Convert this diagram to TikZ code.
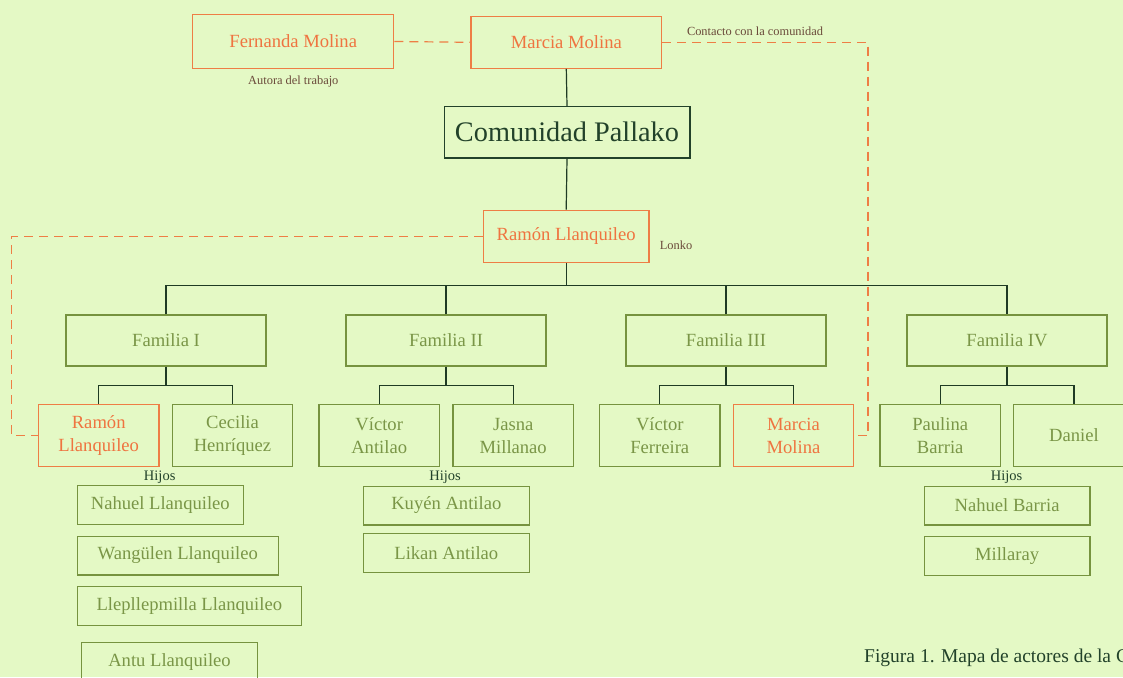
\documentclass[tikz,border=0pt]{standalone}
\usepackage{fontspec}
\setmainfont{Liberation Serif}
\definecolor{bgC}{HTML}{E4F9C5}
\definecolor{orT}{HTML}{EF7440}
\definecolor{orB}{HTML}{EE7E45}
\definecolor{grT}{HTML}{7A9647}
\definecolor{grB}{HTML}{76933F}
\definecolor{dkC}{HTML}{22422A}
\definecolor{lineC}{HTML}{1F3B24}
\definecolor{brC}{HTML}{6A4A3A}
\begin{document}
\begin{tikzpicture}[x=1pt,y=-1pt,
  box/.style={draw, line width=1.2pt, inner sep=0pt, align=center,
    font=\fontsize{18.6}{23}\selectfont},
  obox/.style={box, draw=orB, text=orT},
  gbox/.style={box, draw=grB, text=grT},
  conn/.style={draw=lineC, line width=1.2pt},
  link/.style={draw=orB, line width=1.2pt, dash pattern=on 9pt off 6pt},
  small/.style={text=brC, inner sep=0pt, font=\fontsize{12.4}{14}\selectfont},
  hijos/.style={text=dkC, inner sep=0pt, font=\fontsize{14.5}{16}\selectfont}
]
\useasboundingbox (0,0) rectangle (1123,677);
\clip (0,0) rectangle (1123,677);
\fill[bgC] (0,0) rectangle (1123,677);

% top
\node[obox, minimum width=201pt, minimum height=53.6pt] (fern) at (293.2,41.5) {Fernanda Molina};
\node[obox, minimum width=190.7pt, minimum height=52pt] (marT) at (566.3,42.3) {Marcia Molina};
\node[small] (autora) at (293.3,81.7) {Autora del trabajo};
\node[small] (contacto) at (755,31) {Contacto con la comunidad};

\node[box, draw=dkC, text=dkC, line width=1.3pt, minimum width=245.7pt, minimum height=51.3pt,
  font=\fontsize{28.3}{30}\selectfont] (com) at (567,132.3) {Comunidad Pallako};

\node[obox, minimum width=165.7pt, minimum height=52pt] (ramon) at (566.2,236.3) {Ramón Llanquileo};
\node[small] (lonko) at (676,245.3) {Lonko};

% families
\foreach \n/\x/\t in {f1/166/Familia I, f2/446/Familia II, f3/726/Familia III, f4/1007/Familia IV}
  \node[gbox, minimum width=200pt, minimum height=51pt] (\n) at (\x,340.5) {\t};

% couples
\tikzset{cbox/.style={minimum width=120.5pt, minimum height=61.5pt}}
\node[obox, cbox] (c11) at (98.7,435.5) {Ramón\\Llanquileo};
\node[gbox, cbox] (c12) at (232.5,435.5) {Cecilia\\Henríquez};
\node[gbox, cbox] (c21) at (379.2,435.5) {Víctor\\Antilao};
\node[gbox, cbox] (c22) at (513.2,435.5) {Jasna\\Millanao};
\node[gbox, cbox] (c31) at (659.8,435.5) {Víctor\\Ferreira};
\node[obox, cbox] (c32) at (793.5,435.5) {Marcia\\Molina};
\node[gbox, cbox] (c41) at (940.2,435.5) {Paulina\\Barria};
\node[gbox, cbox] (c42) at (1074,435.5) {Daniel};

% hijos
\node[hijos] (h1) at (159.7,477.5) {Hijos};
\node[hijos] (h2) at (445,477.5) {Hijos};
\node[hijos] (h4) at (1006.5,477.5) {Hijos};

\tikzset{kbox/.style={gbox, minimum height=38.8pt}}
\node[kbox, minimum width=166pt] (k11) at (160.3,505) {Nahuel Llanquileo};
\node[kbox, minimum width=201pt] (k12) at (177.8,555.5) {Wangülen Llanquileo};
\node[kbox, minimum width=224pt] (k13) at (189.3,606) {Llepllepmilla Llanquileo};
\node[kbox, minimum width=176.4pt] (k14) at (169.5,662) {Antu Llanquileo};
\node[kbox, minimum width=166pt] (k21) at (446.3,505.5) {Kuyén Antilao};
\node[kbox, minimum width=166pt] (k22) at (446.3,553.2) {Likan Antilao};
\node[kbox, minimum width=165.8pt] (k41) at (1007.1,505.5) {Nahuel Barria};
\node[kbox, minimum width=165.8pt] (k42) at (1007.1,556) {Millaray};

% caption
\node[anchor=base west, inner sep=0pt, text=dkC, font=\fontsize{19.5}{21}\selectfont] (cap) at (864,662)
  {Figura 1. Mapa de actores de la Comunidad Pallako};

% connectors
\coordinate (busy) at (0,285.7);
\coordinate (bry) at (0,385.3);
\draw[conn] (marT.south) -- (com.north);
\draw[conn] (com.south) -- (ramon.north);
\draw[conn] (ramon.south) -- (ramon.south |- busy);
\draw[conn] (f1.north) -- (f1.north |- busy) -- (f4.north |- busy) -- (f4.north);
\draw[conn] (f2.north) -- (f2.north |- busy);
\draw[conn] (f3.north) -- (f3.north |- busy);
\foreach \f/\a/\b in {f1/c11/c12, f2/c21/c22, f3/c31/c32, f4/c41/c42}{
  \draw[conn] (\f.south) -- (\f.south |- bry);
  \draw[conn] (\a.north) -- (\a.north |- bry) -- (\b.north |- bry) -- (\b.north);
}

% dashed links
\coordinate (rc) at (868,0);
\coordinate (lc) at (11.7,0);
\draw[link] (fern.east) -- (marT.west);
\draw[link] (marT.east) -- (marT.east -| rc) -- (c32.east -| rc) -- (c32.east);
\draw[link] (ramon.west) -- (ramon.west -| lc) -- (c11.west -| lc) -- (c11.west);
\end{tikzpicture}
\end{document}
